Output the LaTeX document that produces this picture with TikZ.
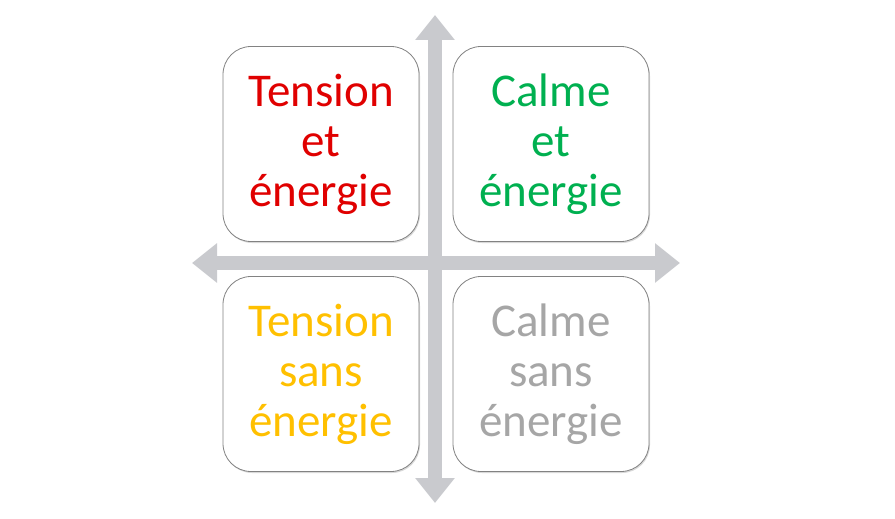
\documentclass[tikz,border=0pt]{standalone}
\usepackage{fontspec}
\setmainfont{Carlito}
\usetikzlibrary{arrows.meta,shadows}

\definecolor{axisgray}{RGB}{201,202,206}
\definecolor{boxgray}{RGB}{130,130,130}
\definecolor{tensred}{RGB}{224,0,0}
\definecolor{calmgreen}{RGB}{0,176,80}
\definecolor{tensgold}{RGB}{255,192,0}
\definecolor{calmgray}{RGB}{166,166,166}

\tikzset{
  quadrant/.style={draw=boxgray, line width=0.8pt, fill=white, rounded corners=28pt,
    minimum width=196pt, minimum height=195pt, align=center,
    font=\fontsize{47}{50}\selectfont,
    drop shadow={opacity=0.3, shadow xshift=1pt, shadow yshift=-1.5pt}},
  axis/.style={line width=14pt, draw=axisgray,
    {Triangle[length=25pt,width=38pt]}-{Triangle[length=25pt,width=38pt]}}
}

\begin{document}
\begin{tikzpicture}[x=1pt,y=-1pt]
\useasboundingbox (0,0) rectangle (895,519);

\coordinate (top) at (435,15);
\coordinate (bottom) at (435,503);
\coordinate (left) at (192,263);
\coordinate (right) at (680,263);

\draw[axis] (left)--(right);
\draw[axis] (top)--(bottom);

\node [quadrant, text=tensred] (tension) at (321,144) {Tension\\et\\énergie};
\node [quadrant, text=calmgreen] (calme) at (551,144) {Calme\\et\\énergie};
\node [quadrant, text=tensgold] (tensionsans) at (321,374) {Tension\\sans\\énergie};
\node [quadrant, text=calmgray] (calmesans) at (551,374) {Calme\\sans\\énergie};

\end{tikzpicture}
\end{document}
